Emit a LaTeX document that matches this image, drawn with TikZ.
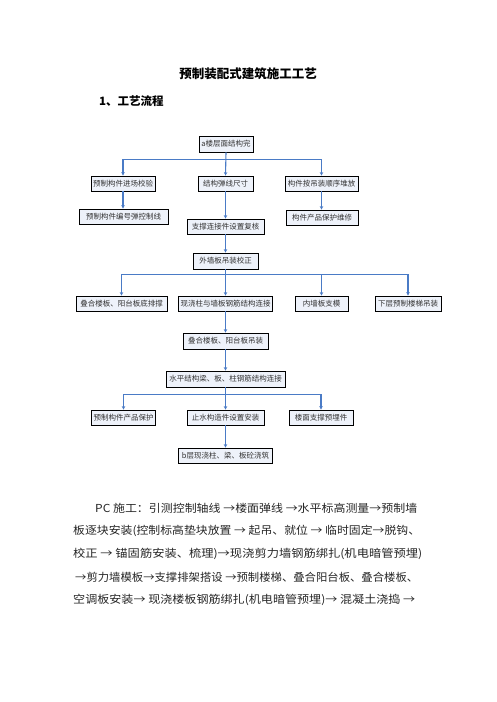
\documentclass[tikz,border=0pt]{standalone}
\usepackage{fontspec}
\usepackage{graphicx}
\setmainfont{Noto Sans CJK SC}
\newfontfamily\cjkbold{Noto Sans CJK SC}[BoldFont={* Bold}]
\usetikzlibrary{arrows.meta}
\definecolor{boxfill}{HTML}{EEF2FA}
\definecolor{connblue}{HTML}{4A7BC6}
\definecolor{txtgray}{HTML}{333333}
\tikzset{
  flowbox/.style={draw=black, line width=0.9pt, fill=boxfill, inner sep=0pt,
    font=\fontsize{7.5}{8}\selectfont, text=txtgray},
  conn/.style={draw=connblue, line width=1.1pt},
  arr/.style={conn, -{Stealth[length=3.5pt,width=3.5pt]}},
  bodyline/.style={anchor=west, inner sep=0pt, font=\fontsize{11}{12}\selectfont, text=black!85}
}
\newcommand{\bx}[6]{\node[flowbox, minimum width=#3pt, minimum height=#4pt] (#1) at (#2,#5) {#6};}
\begin{document}
\begin{tikzpicture}[x=1pt,y=-1pt]
\path[use as bounding box, fill=white] (0,0) rectangle (496,702);

% titles
\node[font=\fontsize{12.5}{14}\selectfont\bfseries, inner sep=0pt] (title) at (248,74) {预制装配式建筑施工工艺};
\node[font=\fontsize{11.5}{13}\selectfont\bfseries, inner sep=0pt, anchor=west] (sec) at (99,101) {1、工艺流程};

% boxes: name, cx, w, h, cy, text
\bx{A}{226}{54}{16}{144}{a楼层面结构完}
\bx{B1}{123}{64}{15}{183.5}{预制构件进场校验}
\bx{B2}{225.5}{55}{15}{183.5}{结构弹线尺寸}
\bx{B3}{321.5}{73}{15}{183.5}{构件按吊装顺序堆放}
\bx{C1}{123.5}{89}{15}{216.5}{预制构件编号弹控制线}
\bx{C3}{322}{72}{15}{217.5}{构件产品保护维修}
\bx{C2}{225.5}{77}{15}{226.5}{支撑连接件设置复核}
\bx{D}{225.5}{65}{16}{261}{外墙板吊装校正}
\bx{E1}{121.5}{91}{15}{303.5}{叠合楼板、阳台板底排撑}
\bx{E2}{225.5}{94}{15}{303.5}{现浇柱与墙板钢筋结构连接}
\bx{E3}{321.5}{53}{15}{303.5}{内墙板支模}
\bx{E4}{408}{66}{15}{303.5}{下层预制楼梯吊装}
\bx{F}{225.5}{85}{16}{341}{叠合楼板、阳台板吊装}
\bx{G}{225.5}{119}{16}{379}{水平结构梁、板、柱钢筋结构连接}
\bx{H1}{123.5}{64}{15}{417.5}{预制构件产品保护}
\bx{H2}{225.5}{77}{15}{417.5}{止水构造件设置安装}
\bx{H3}{321}{64}{15}{417.5}{楼面支撑预埋件}
\bx{I}{225.5}{94}{15}{455.5}{b层现浇柱、梁、板砼浇筑}

% junctions
\coordinate (j1) at (225.5,159.5);
\coordinate (j2) at (225.5,274.5);
\coordinate (j3) at (225.5,394.5);

% connectors
\draw[arr] (A.south) -- (B2.north);
\draw[arr] (j1) -| (B1.north);
\draw[arr] (j1) -| (B3.north);
\draw[arr] (B1.south) -- (C1.north -| B1.south);
\draw[arr] (B3.south) -- (C3.north -| B3.south);
\draw[arr] (B2.south) -- (C2.north);
\draw[arr] (C2.south) -- (D.north);
\draw[arr] (D.south) -- (E2.north);
\draw[arr] (j2) -| (E1.north);
\draw[arr] (j2) -| (E3.north);
\draw[arr] (j2) -| (E4.north);
\draw[arr] (E2.south) -- (F.north);
\draw[arr] (F.south) -- (G.north);
\draw[arr] (G.south) -- (H2.north);
\draw[arr] (j3) -| (H1.north);
\draw[arr] (j3) -| (H3.north);
\draw[arr] (H2.south) -- (I.north);

% body text
\node[bodyline] (l1) at (95,508) {\resizebox{322pt}{\height}{PC 施工：引测控制轴线 →楼面弹线 →水平标高测量→预制墙}};
\node[bodyline] (l2) at (73,531) {\resizebox{347pt}{\height}{板逐块安装(控制标高垫块放置 → 起吊、就位 → 临时固定→脱钩、}};
\node[bodyline] (l3) at (73,554) {\resizebox{349pt}{\height}{校正 → 锚固筋安装、梳理)→现浇剪力墙钢筋绑扎(机电暗管预埋)}};
\node[bodyline] (l4) at (75,577) {\resizebox{343pt}{\height}{→剪力墙模板→支撑排架搭设 →预制楼梯、叠合阳台板、叠合楼板、}};
\node[bodyline] (l5) at (73,600) {\resizebox{342pt}{\height}{空调板安装→ 现浇楼板钢筋绑扎(机电暗管预埋)→ 混凝土浇捣 →}};
\end{tikzpicture}
\end{document}
